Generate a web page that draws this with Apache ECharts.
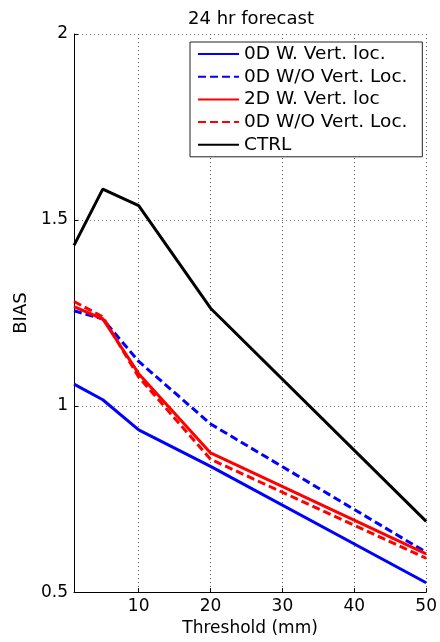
<!DOCTYPE html>
<html>
<head>
<meta charset="utf-8">
<script src="https://cdn.jsdelivr.net/npm/echarts@6/dist/echarts.min.js"></script>
<style>
  html, body { margin: 0; padding: 0; background: #fff; }
  #chart { width: 440px; height: 642px; }
</style>
</head>
<body>
<div id="chart"></div>
<script>
// Rain thresholds (mm) and BIAS scores for each experiment
const thresholds = [1, 5, 10, 20, 50];
const xTicks = [10, 20, 30, 40, 50];

const bias0DWithVert = [1.059, 1.017, 0.936, 0.838, 0.525];
const bias0DWithoutVert = [1.256, 1.234, 1.120, 0.952, 0.607];
const bias2DWithVert = [1.267, 1.234, 1.087, 0.874, 0.603];
const bias0DWithoutVertB = [1.281, 1.240, 1.078, 0.857, 0.591];
const biasCtrl = [1.432, 1.583, 1.539, 1.263, 0.690];

const seriesNames = [
  '0D W. Vert. loc.',
  '0D W/O Vert. Loc.',
  '2D W. Vert. loc',
  '0D W/O Vert. Loc. ',
  'CTRL'
];

const FONT = 'DejaVu Sans';

function pairs(values) {
  return thresholds.map((t, i) => [t, values[i]]);
}

function lineSeries(name, values, color, dashed) {
  return {
    name: name,
    type: 'line',
    data: pairs(values),
    symbol: 'none',
    showSymbol: false,
    animation: false,
    lineStyle: { color: color, width: 3, type: dashed ? [8, 4] : 'solid' },
    itemStyle: { color: color }
  };
}

const chart = echarts.init(document.getElementById('chart'), null, { renderer: 'canvas' });

chart.setOption({
  backgroundColor: '#fff',
  animation: false,
  title: {
    text: '24 hr forecast',
    left: 246,
    top: 5,
    textAlign: 'center',
    textStyle: { fontFamily: FONT, fontSize: 18, fontWeight: 'normal', color: '#000' }
  },
  grid: { left: 74, right: 13, top: 34, bottom: 45 },
  legend: {
    orient: 'vertical',
    left: 190,
    top: 42,
    padding: [2, 9, 2, 7],
    backgroundColor: '#fff',
    borderColor: '#222',
    borderWidth: 1,
    itemWidth: 41,
    itemHeight: 14,
    itemGap: 2.7,
    // line samples only, no marker in the middle
    itemStyle: { opacity: 0, borderWidth: 0 },
    data: seriesNames,
    textStyle: { fontFamily: FONT, fontSize: 18.5, color: '#000', lineHeight: 20 }
  },
  xAxis: {
    type: 'value',
    min: 1,
    max: 50,
    splitNumber: 5,
    name: 'Threshold (mm)',
    nameLocation: 'middle',
    nameGap: 22,
    nameTextStyle: { fontFamily: FONT, fontSize: 17, color: '#000' },
    axisLine: { show: true, lineStyle: { color: '#000', width: 1 } },
    axisTick: { show: true, inside: true, length: 4, customValues: xTicks, lineStyle: { color: '#000' } },
    axisLabel: { customValues: xTicks, margin: 6, fontFamily: FONT, fontSize: 17, color: '#000' },
    splitLine: { show: true, lineStyle: { color: '#555', type: [1, 3], width: 1 } }
  },
  yAxis: {
    type: 'value',
    min: 0.5,
    max: 2,
    interval: 0.5,
    name: 'BIAS',
    nameLocation: 'middle',
    nameGap: 37,
    nameTextStyle: { fontFamily: FONT, fontSize: 18, color: '#000' },
    axisLine: { show: true, lineStyle: { color: '#000', width: 1 } },
    axisTick: { show: true, inside: true, length: 4, lineStyle: { color: '#000' } },
    axisLabel: {
      margin: 6,
      fontFamily: FONT,
      fontSize: 17,
      color: '#000',
      formatter: v => String(v)
    },
    splitLine: { show: true, lineStyle: { color: '#777', type: [1, 3], width: 1 } }
  },
  series: [
    lineSeries(seriesNames[0], bias0DWithVert, '#0000ff', false),
    lineSeries(seriesNames[1], bias0DWithoutVert, '#0000ff', true),
    lineSeries(seriesNames[2], bias2DWithVert, '#ff0000', false),
    lineSeries(seriesNames[3], bias0DWithoutVertB, '#ff0000', true),
    lineSeries(seriesNames[4], biasCtrl, '#000000', false)
  ]
});
</script>
</body>
</html>
